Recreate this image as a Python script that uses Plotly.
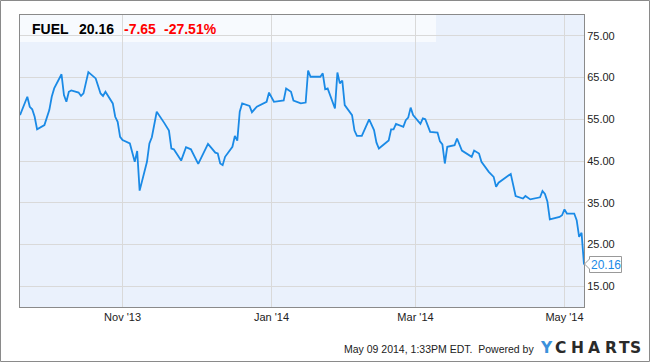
import plotly.graph_objects as go

# ---------------- data ----------------
dates = [
    "2013-09-20", "2013-09-23", "2013-09-24", "2013-09-25", "2013-09-26", "2013-09-27",
    "2013-09-30", "2013-10-02", "2013-10-03", "2013-10-04", "2013-10-07", "2013-10-08",
    "2013-10-09", "2013-10-10", "2013-10-11", "2013-10-14", "2013-10-15", "2013-10-16",
    "2013-10-18", "2013-10-21", "2013-10-23", "2013-10-24", "2013-10-25", "2013-10-28",
    "2013-10-29", "2013-10-30", "2013-10-31", "2013-11-01", "2013-11-04", "2013-11-06",
    "2013-11-07", "2013-11-08", "2013-11-11", "2013-11-12", "2013-11-13", "2013-11-15",
    "2013-11-18", "2013-11-20", "2013-11-21", "2013-11-22", "2013-11-25", "2013-11-27",
    "2013-11-29", "2013-12-02", "2013-12-06", "2013-12-09", "2013-12-10", "2013-12-11",
    "2013-12-12", "2013-12-13", "2013-12-16", "2013-12-17", "2013-12-18", "2013-12-19",
    "2013-12-20", "2013-12-23", "2013-12-24", "2013-12-26", "2013-12-30", "2013-12-31",
    "2014-01-02", "2014-01-06", "2014-01-07", "2014-01-09", "2014-01-10", "2014-01-13",
    "2014-01-15", "2014-01-16", "2014-01-17", "2014-01-21", "2014-01-22", "2014-01-23",
    "2014-01-24", "2014-01-27", "2014-01-28", "2014-01-29", "2014-01-30", "2014-01-31",
    "2014-02-03", "2014-02-04", "2014-02-05", "2014-02-07", "2014-02-10", "2014-02-12",
    "2014-02-13", "2014-02-14", "2014-02-18", "2014-02-19", "2014-02-20", "2014-02-21",
    "2014-02-24", "2014-02-25", "2014-02-26", "2014-02-27", "2014-02-28", "2014-03-03",
    "2014-03-04", "2014-03-05", "2014-03-07", "2014-03-10", "2014-03-11", "2014-03-12",
    "2014-03-13", "2014-03-14", "2014-03-17", "2014-03-18", "2014-03-20", "2014-03-24",
    "2014-03-25", "2014-03-27", "2014-03-28", "2014-03-31", "2014-04-02", "2014-04-03",
    "2014-04-04", "2014-04-07", "2014-04-09", "2014-04-11", "2014-04-14", "2014-04-15",
    "2014-04-17", "2014-04-21", "2014-04-22", "2014-04-23", "2014-04-24", "2014-04-25",
    "2014-04-29", "2014-04-30", "2014-05-01", "2014-05-02", "2014-05-05", "2014-05-06",
    "2014-05-07", "2014-05-08", "2014-05-09",
]
prices = [
    56.0, 60.4, 58.0, 57.4, 55.6, 52.6,
    53.6, 57.2, 60.4, 62.4, 65.8, 60.8,
    59.2, 61.6, 61.9, 61.4, 60.6, 61.2,
    66.3, 64.8, 61.2, 60.6, 61.6, 58.8,
    55.6, 54.4, 50.8, 50.0, 49.2, 44.8,
    47.4, 37.9, 44.8, 49.2, 50.7, 56.8,
    54.2, 52.3, 48.0, 47.8, 45.1, 48.3,
    47.8, 44.3, 49.1, 47.0, 46.8, 44.4,
    44.0, 46.0, 48.4, 51.0, 49.9, 56.8,
    58.8, 58.2, 56.7, 58.0, 59.2, 61.4,
    59.2, 59.5, 62.4, 61.6, 59.5, 58.8,
    59.0, 66.7, 65.2, 65.2, 66.0, 62.2,
    62.4, 57.6, 66.2, 63.6, 64.3, 58.4,
    56.0, 52.3, 51.0, 51.0, 55.0, 52.4,
    49.4, 48.0, 49.9, 52.6, 52.6, 53.9,
    53.2, 54.8, 55.4, 57.8, 56.0, 53.9,
    55.2, 55.0, 52.0, 51.8, 49.7, 49.0,
    44.4, 48.4, 48.8, 50.4, 47.5, 46.0,
    47.5, 46.8, 44.8, 42.4, 41.2, 38.8,
    39.8, 41.1, 41.9, 36.6, 36.0, 36.6,
    35.8, 36.3, 37.8, 37.1, 35.3, 31.0,
    31.6, 32.0, 33.4, 32.4, 32.4, 30.8,
    26.8, 27.8, 20.16,
]
x_tick_vals = ["2013-11-01", "2014-01-01", "2014-03-01", "2014-05-01"]
x_tick_text = ["Nov '13", "Jan '14", "Mar '14", "May '14"]
y_tick_vals = [15, 25, 35, 45, 55, 65, 75]
y_tick_text = ["15.00", "25.00", "35.00", "45.00", "55.00", "65.00", "75.00"]
ticker = "FUEL"
last_price = "20.16"
change = "-7.65"
change_pct = "-27.51%"
footer_text = "May 09 2014, 1:33PM EDT.  Powered by"
logo = "YCHARTS"

# ---------------- layout constants ----------------
W, H = 650, 362
L, R, T, B = 20, 66, 15, 55
PW, PH = W - L - R, H - T - B
FONT = "Liberation Sans, Arial, sans-serif"
LINE_BLUE = "#1a8ae6"
GRID = "#d9d9d9"
BORDER = "#8a8a8a"


def px(x):
    return (x - L) / PW


def py(y):
    return (H - B - y) / PH


fig = go.Figure()
fig.add_trace(go.Scatter(
    x=dates, y=prices, mode="lines",
    line=dict(color=LINE_BLUE, width=1.8),
    hoverinfo="skip", showlegend=False,
))

shapes = [
    # header band
    dict(type="rect", xref="paper", yref="paper", x0=0, x1=px(436), y0=py(42), y1=1,
         fillcolor="rgba(255,255,255,0.62)", line=dict(width=0), layer="below"),
    # outer frame
    dict(type="rect", xref="paper", yref="paper", x0=px(0.5), x1=px(649.5),
         y0=py(361.5), y1=py(0.5), line=dict(color=BORDER, width=1), layer="above"),
    # last-value callout
    dict(type="path", xref="paper", yref="paper",
         path=("M {} {} L {} {} L {} {} L {} {} L {} {} L {} {} L {} {} Z".format(
             px(584.5), py(264), px(589.5), py(259), px(589.5), py(256.5),
             px(621.5), py(256.5), px(621.5), py(272.5), px(589.5), py(272.5),
             px(589.5), py(269))),
         fillcolor="white", line=dict(color="#999999", width=1), layer="above"),
]

annotations = []
head = [(ticker, 30, "#000000"), (last_price, 77, "#000000"),
        (change, 122, "#ff0000"), (change_pct, 162, "#ff0000")]
for txt, xx, col in head:
    annotations.append(dict(text="<b>%s</b>" % txt, xref="paper", yref="paper",
                            x=px(xx), y=py(28.5), xanchor="left", yanchor="middle",
                            showarrow=False, font=dict(family=FONT, size=14, color=col)))
annotations.append(dict(text=last_price, xref="paper", yref="paper",
                        x=px(605.5), y=py(264.5), xanchor="center", yanchor="middle",
                        showarrow=False, font=dict(family=FONT, size=12, color=LINE_BLUE)))
annotations.append(dict(text=footer_text, xref="paper", yref="paper",
                        x=px(342), y=py(349), xanchor="left", yanchor="middle",
                        showarrow=False, font=dict(family=FONT, size=10.5, color="#222222")))
logo_x = [546, 560, 577.5, 594, 610.5, 624, 635.5]
for i, ch in enumerate(logo):
    annotations.append(dict(text="<b>%s</b>" % ch, xref="paper", yref="paper",
                            x=px(logo_x[i]), y=py(347.5), xanchor="center", yanchor="middle",
                            showarrow=False,
                            font=dict(family="DejaVu Sans, sans-serif", size=15.5,
                                      color="#3b91dc" if i == 0 else "#2a2a2a")))

fig.update_layout(
    width=W, height=H, autosize=False,
    margin=dict(l=L, r=R, t=T, b=B, pad=0),
    paper_bgcolor="white", plot_bgcolor="#eaf1fc",
    shapes=shapes, annotations=annotations,
    font=dict(family=FONT, size=11, color="#222222"),
    xaxis=dict(type="date", range=["2013-09-20", "2014-05-09"],
               tickvals=x_tick_vals, ticktext=x_tick_text,
               showgrid=True, gridcolor=GRID, gridwidth=1,
               showline=True, linecolor=BORDER, linewidth=1, mirror=True,
               ticks="", zeroline=False, fixedrange=True,
               tickfont=dict(family=FONT, size=11, color="#222222")),
    yaxis=dict(range=[10, 80], side="right",
               tickvals=y_tick_vals, ticktext=y_tick_text,
               showgrid=True, gridcolor=GRID, gridwidth=1,
               showline=True, linecolor=BORDER, linewidth=1, mirror=True,
               ticks="", zeroline=False, fixedrange=True,
               tickfont=dict(family=FONT, size=11, color="#222222")),
)

fig.write_html("out.html", config=dict(displayModeBar=False))
